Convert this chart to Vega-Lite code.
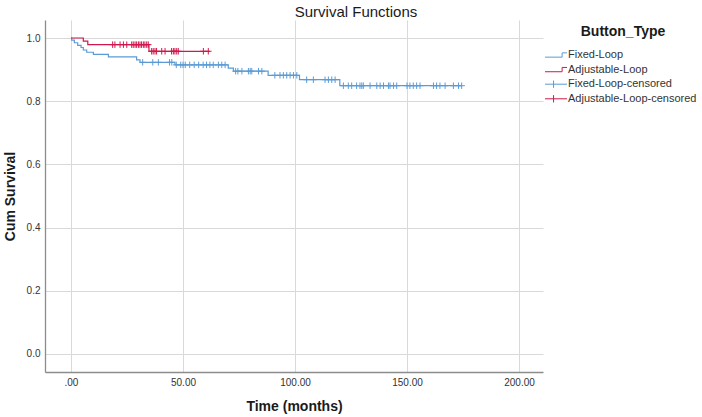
{
  "$schema": "https://vega.github.io/schema/vega-lite/v6.json",
  "width": 498,
  "height": 352,
  "autosize": "none",
  "padding": {"left": 45, "top": 20, "right": 159, "bottom": 45},
  "background": "white",
  "title": {
    "text": "Survival Functions",
    "anchor": "middle",
    "frame": "group",
    "dx": 62,
    "offset": 0,
    "font": "Liberation Sans",
    "fontSize": 15,
    "fontWeight": "normal",
    "color": "#1a1a1a"
  },
  "data": {
    "values": [
      {"t": 0, "s": 1.0, "series": "Fixed-Loop", "kind": "line"},
      {"t": 0.3, "s": 0.993, "series": "Fixed-Loop", "kind": "line"},
      {"t": 1.5, "s": 0.985, "series": "Fixed-Loop", "kind": "line"},
      {"t": 3, "s": 0.977, "series": "Fixed-Loop", "kind": "line"},
      {"t": 4.5, "s": 0.97, "series": "Fixed-Loop", "kind": "line"},
      {"t": 5.5, "s": 0.962, "series": "Fixed-Loop", "kind": "line"},
      {"t": 7, "s": 0.955, "series": "Fixed-Loop", "kind": "line"},
      {"t": 10, "s": 0.948, "series": "Fixed-Loop", "kind": "line"},
      {"t": 16.7, "s": 0.94, "series": "Fixed-Loop", "kind": "line"},
      {"t": 29.3, "s": 0.931, "series": "Fixed-Loop", "kind": "line"},
      {"t": 30.8, "s": 0.923, "series": "Fixed-Loop", "kind": "line"},
      {"t": 46.4, "s": 0.915, "series": "Fixed-Loop", "kind": "line"},
      {"t": 70.2, "s": 0.905, "series": "Fixed-Loop", "kind": "line"},
      {"t": 72.5, "s": 0.895, "series": "Fixed-Loop", "kind": "line"},
      {"t": 88, "s": 0.882, "series": "Fixed-Loop", "kind": "line"},
      {"t": 102, "s": 0.868, "series": "Fixed-Loop", "kind": "line"},
      {"t": 120, "s": 0.849, "series": "Fixed-Loop", "kind": "line"},
      {"t": 174.5, "s": 0.849, "series": "Fixed-Loop", "kind": "line"},

      {"t": 0, "s": 1.0, "series": "Adjustable-Loop", "kind": "line"},
      {"t": 5.5, "s": 0.99, "series": "Adjustable-Loop", "kind": "line"},
      {"t": 7.5, "s": 0.979, "series": "Adjustable-Loop", "kind": "line"},
      {"t": 34.8, "s": 0.958, "series": "Adjustable-Loop", "kind": "line"},
      {"t": 62, "s": 0.958, "series": "Adjustable-Loop", "kind": "line"},

      {"t": 32, "s": 0.923, "series": "Fixed-Loop-censored", "kind": "censor"},
      {"t": 36.5, "s": 0.923, "series": "Fixed-Loop-censored", "kind": "censor"},
      {"t": 39, "s": 0.923, "series": "Fixed-Loop-censored", "kind": "censor"},
      {"t": 44, "s": 0.923, "series": "Fixed-Loop-censored", "kind": "censor"},
      {"t": 45, "s": 0.923, "series": "Fixed-Loop-censored", "kind": "censor"},
      {"t": 47, "s": 0.915, "series": "Fixed-Loop-censored", "kind": "censor"},
      {"t": 49, "s": 0.915, "series": "Fixed-Loop-censored", "kind": "censor"},
      {"t": 50, "s": 0.915, "series": "Fixed-Loop-censored", "kind": "censor"},
      {"t": 51, "s": 0.915, "series": "Fixed-Loop-censored", "kind": "censor"},
      {"t": 53, "s": 0.915, "series": "Fixed-Loop-censored", "kind": "censor"},
      {"t": 55, "s": 0.915, "series": "Fixed-Loop-censored", "kind": "censor"},
      {"t": 57, "s": 0.915, "series": "Fixed-Loop-censored", "kind": "censor"},
      {"t": 59, "s": 0.915, "series": "Fixed-Loop-censored", "kind": "censor"},
      {"t": 60.5, "s": 0.915, "series": "Fixed-Loop-censored", "kind": "censor"},
      {"t": 62, "s": 0.915, "series": "Fixed-Loop-censored", "kind": "censor"},
      {"t": 63.5, "s": 0.915, "series": "Fixed-Loop-censored", "kind": "censor"},
      {"t": 65.8, "s": 0.915, "series": "Fixed-Loop-censored", "kind": "censor"},
      {"t": 67.3, "s": 0.915, "series": "Fixed-Loop-censored", "kind": "censor"},
      {"t": 68.8, "s": 0.915, "series": "Fixed-Loop-censored", "kind": "censor"},
      {"t": 73.5, "s": 0.895, "series": "Fixed-Loop-censored", "kind": "censor"},
      {"t": 74.5, "s": 0.895, "series": "Fixed-Loop-censored", "kind": "censor"},
      {"t": 76.3, "s": 0.895, "series": "Fixed-Loop-censored", "kind": "censor"},
      {"t": 79.2, "s": 0.895, "series": "Fixed-Loop-censored", "kind": "censor"},
      {"t": 80, "s": 0.895, "series": "Fixed-Loop-censored", "kind": "censor"},
      {"t": 80.7, "s": 0.895, "series": "Fixed-Loop-censored", "kind": "censor"},
      {"t": 83.7, "s": 0.895, "series": "Fixed-Loop-censored", "kind": "censor"},
      {"t": 85.2, "s": 0.895, "series": "Fixed-Loop-censored", "kind": "censor"},
      {"t": 91, "s": 0.882, "series": "Fixed-Loop-censored", "kind": "censor"},
      {"t": 93.3, "s": 0.882, "series": "Fixed-Loop-censored", "kind": "censor"},
      {"t": 94.8, "s": 0.882, "series": "Fixed-Loop-censored", "kind": "censor"},
      {"t": 96.3, "s": 0.882, "series": "Fixed-Loop-censored", "kind": "censor"},
      {"t": 97.8, "s": 0.882, "series": "Fixed-Loop-censored", "kind": "censor"},
      {"t": 99.3, "s": 0.882, "series": "Fixed-Loop-censored", "kind": "censor"},
      {"t": 100.8, "s": 0.882, "series": "Fixed-Loop-censored", "kind": "censor"},
      {"t": 105.2, "s": 0.868, "series": "Fixed-Loop-censored", "kind": "censor"},
      {"t": 108.2, "s": 0.868, "series": "Fixed-Loop-censored", "kind": "censor"},
      {"t": 113.4, "s": 0.868, "series": "Fixed-Loop-censored", "kind": "censor"},
      {"t": 114.9, "s": 0.868, "series": "Fixed-Loop-censored", "kind": "censor"},
      {"t": 116.4, "s": 0.868, "series": "Fixed-Loop-censored", "kind": "censor"},
      {"t": 117.9, "s": 0.868, "series": "Fixed-Loop-censored", "kind": "censor"},
      {"t": 121.6, "s": 0.849, "series": "Fixed-Loop-censored", "kind": "censor"},
      {"t": 123.8, "s": 0.849, "series": "Fixed-Loop-censored", "kind": "censor"},
      {"t": 125.3, "s": 0.849, "series": "Fixed-Loop-censored", "kind": "censor"},
      {"t": 127.5, "s": 0.849, "series": "Fixed-Loop-censored", "kind": "censor"},
      {"t": 129, "s": 0.849, "series": "Fixed-Loop-censored", "kind": "censor"},
      {"t": 129.8, "s": 0.849, "series": "Fixed-Loop-censored", "kind": "censor"},
      {"t": 130.5, "s": 0.849, "series": "Fixed-Loop-censored", "kind": "censor"},
      {"t": 133.5, "s": 0.849, "series": "Fixed-Loop-censored", "kind": "censor"},
      {"t": 136.5, "s": 0.849, "series": "Fixed-Loop-censored", "kind": "censor"},
      {"t": 138, "s": 0.849, "series": "Fixed-Loop-censored", "kind": "censor"},
      {"t": 139.5, "s": 0.849, "series": "Fixed-Loop-censored", "kind": "censor"},
      {"t": 141.7, "s": 0.849, "series": "Fixed-Loop-censored", "kind": "censor"},
      {"t": 142.4, "s": 0.849, "series": "Fixed-Loop-censored", "kind": "censor"},
      {"t": 144, "s": 0.849, "series": "Fixed-Loop-censored", "kind": "censor"},
      {"t": 145.4, "s": 0.849, "series": "Fixed-Loop-censored", "kind": "censor"},
      {"t": 150, "s": 0.849, "series": "Fixed-Loop-censored", "kind": "censor"},
      {"t": 151.3, "s": 0.849, "series": "Fixed-Loop-censored", "kind": "censor"},
      {"t": 152.8, "s": 0.849, "series": "Fixed-Loop-censored", "kind": "censor"},
      {"t": 154.3, "s": 0.849, "series": "Fixed-Loop-censored", "kind": "censor"},
      {"t": 155.8, "s": 0.849, "series": "Fixed-Loop-censored", "kind": "censor"},
      {"t": 161.8, "s": 0.849, "series": "Fixed-Loop-censored", "kind": "censor"},
      {"t": 163.2, "s": 0.849, "series": "Fixed-Loop-censored", "kind": "censor"},
      {"t": 164.7, "s": 0.849, "series": "Fixed-Loop-censored", "kind": "censor"},
      {"t": 167, "s": 0.849, "series": "Fixed-Loop-censored", "kind": "censor"},
      {"t": 170.7, "s": 0.849, "series": "Fixed-Loop-censored", "kind": "censor"},
      {"t": 173, "s": 0.849, "series": "Fixed-Loop-censored", "kind": "censor"},
      {"t": 174.4, "s": 0.849, "series": "Fixed-Loop-censored", "kind": "censor"},

      {"t": 18.6, "s": 0.979, "series": "Adjustable-Loop-censored", "kind": "censor"},
      {"t": 19.6, "s": 0.979, "series": "Adjustable-Loop-censored", "kind": "censor"},
      {"t": 21.9, "s": 0.979, "series": "Adjustable-Loop-censored", "kind": "censor"},
      {"t": 23.4, "s": 0.979, "series": "Adjustable-Loop-censored", "kind": "censor"},
      {"t": 24.9, "s": 0.979, "series": "Adjustable-Loop-censored", "kind": "censor"},
      {"t": 27.1, "s": 0.979, "series": "Adjustable-Loop-censored", "kind": "censor"},
      {"t": 27.8, "s": 0.979, "series": "Adjustable-Loop-censored", "kind": "censor"},
      {"t": 28.6, "s": 0.979, "series": "Adjustable-Loop-censored", "kind": "censor"},
      {"t": 29.3, "s": 0.979, "series": "Adjustable-Loop-censored", "kind": "censor"},
      {"t": 30.1, "s": 0.979, "series": "Adjustable-Loop-censored", "kind": "censor"},
      {"t": 30.8, "s": 0.979, "series": "Adjustable-Loop-censored", "kind": "censor"},
      {"t": 31.5, "s": 0.979, "series": "Adjustable-Loop-censored", "kind": "censor"},
      {"t": 32.3, "s": 0.979, "series": "Adjustable-Loop-censored", "kind": "censor"},
      {"t": 33, "s": 0.979, "series": "Adjustable-Loop-censored", "kind": "censor"},
      {"t": 33.8, "s": 0.979, "series": "Adjustable-Loop-censored", "kind": "censor"},
      {"t": 34.5, "s": 0.979, "series": "Adjustable-Loop-censored", "kind": "censor"},
      {"t": 36, "s": 0.958, "series": "Adjustable-Loop-censored", "kind": "censor"},
      {"t": 36.7, "s": 0.958, "series": "Adjustable-Loop-censored", "kind": "censor"},
      {"t": 37.5, "s": 0.958, "series": "Adjustable-Loop-censored", "kind": "censor"},
      {"t": 38.2, "s": 0.958, "series": "Adjustable-Loop-censored", "kind": "censor"},
      {"t": 40.5, "s": 0.958, "series": "Adjustable-Loop-censored", "kind": "censor"},
      {"t": 42, "s": 0.958, "series": "Adjustable-Loop-censored", "kind": "censor"},
      {"t": 44.9, "s": 0.958, "series": "Adjustable-Loop-censored", "kind": "censor"},
      {"t": 45.7, "s": 0.958, "series": "Adjustable-Loop-censored", "kind": "censor"},
      {"t": 46.4, "s": 0.958, "series": "Adjustable-Loop-censored", "kind": "censor"},
      {"t": 47.2, "s": 0.958, "series": "Adjustable-Loop-censored", "kind": "censor"},
      {"t": 47.9, "s": 0.958, "series": "Adjustable-Loop-censored", "kind": "censor"},
      {"t": 59.1, "s": 0.958, "series": "Adjustable-Loop-censored", "kind": "censor"},
      {"t": 61.3, "s": 0.958, "series": "Adjustable-Loop-censored", "kind": "censor"}
    ]
  },
  "encoding": {
    "x": {
      "field": "t",
      "type": "quantitative",
      "scale": {"domain": [-11.6, 210.7], "nice": false, "zero": false},
      "axis": {
        "title": "Time (months)",
        "values": [0, 50, 100, 150, 200],
        "labelExpr": "datum.value == 0 ? '.00' : format(datum.value, '.2f')",
        "titlePadding": 12
      }
    },
    "y": {
      "field": "s",
      "type": "quantitative",
      "scale": {"domain": [-0.057, 1.057], "nice": false, "zero": false},
      "axis": {
        "title": "Cum Survival",
        "values": [0, 0.2, 0.4, 0.6, 0.8, 1.0],
        "format": ".1f",
        "titlePadding": 9
      }
    },
    "color": {
      "field": "series",
      "type": "nominal",
      "scale": {
        "domain": ["Fixed-Loop", "Adjustable-Loop", "Fixed-Loop-censored", "Adjustable-Loop-censored"],
        "range": ["#5b9bd5", "#d2174c", "#5b9bd5", "#d2174c"]
      },
      "legend": {
        "title": "Button_Type",
        "orient": "none",
        "legendX": 504,
        "legendY": 5,
        "padding": 0,
        "gridAlign": "all",
        "titleAnchor": "middle",
        "titleFont": "Liberation Sans",
        "titleFontSize": 14,
        "titleFontWeight": "bold",
        "titleColor": "#1a1a1a",
        "titlePadding": 9,
        "labelFont": "Liberation Sans",
        "labelFontSize": 11,
        "labelColor": "#333333",
        "labelOffset": 5,
        "symbolSize": 150,
        "rowPadding": 1.6,
        "encode": {
          "symbols": {
            "update": {
              "shape": {"signal": "indexof(datum.value, 'censored') >= 0 ? 'M-1.8,0H1.8M-0.4,-0.6V0.6' : 'M-1.8,0.35H1V-0.35H1.8'"},
              "fill": {"value": "transparent"},
              "strokeWidth": {"value": 1},
              "opacity": {"value": 1}
            }
          }
        }
      }
    }
  },
  "layer": [
    {
      "transform": [{"filter": "datum.kind == 'line'"}],
      "mark": {"type": "line", "interpolate": "step-after", "strokeWidth": 1.2}
    },
    {
      "transform": [{"filter": "datum.kind == 'censor'"}],
      "mark": {
        "type": "point",
        "shape": "M-1,0H1M0,-1V1",
        "size": 42,
        "filled": false,
        "strokeWidth": 1,
        "opacity": 1
      }
    }
  ],
  "config": {
    "view": {"stroke": null},
    "font": "Liberation Sans",
    "axis": {
      "labelFont": "Liberation Sans",
      "labelFontSize": 10,
      "labelColor": "#333333",
      "titleFont": "Liberation Sans",
      "titleFontSize": 14,
      "titleFontWeight": "bold",
      "titleColor": "#1a1a1a",
      "gridColor": "#d9d9d9",
      "gridWidth": 1,
      "gridOpacity": 1,
      "domainColor": "#8c8c8c",
      "domainWidth": 1.3,
      "ticks": false,
      "labelPadding": 5
    }
  }
}
